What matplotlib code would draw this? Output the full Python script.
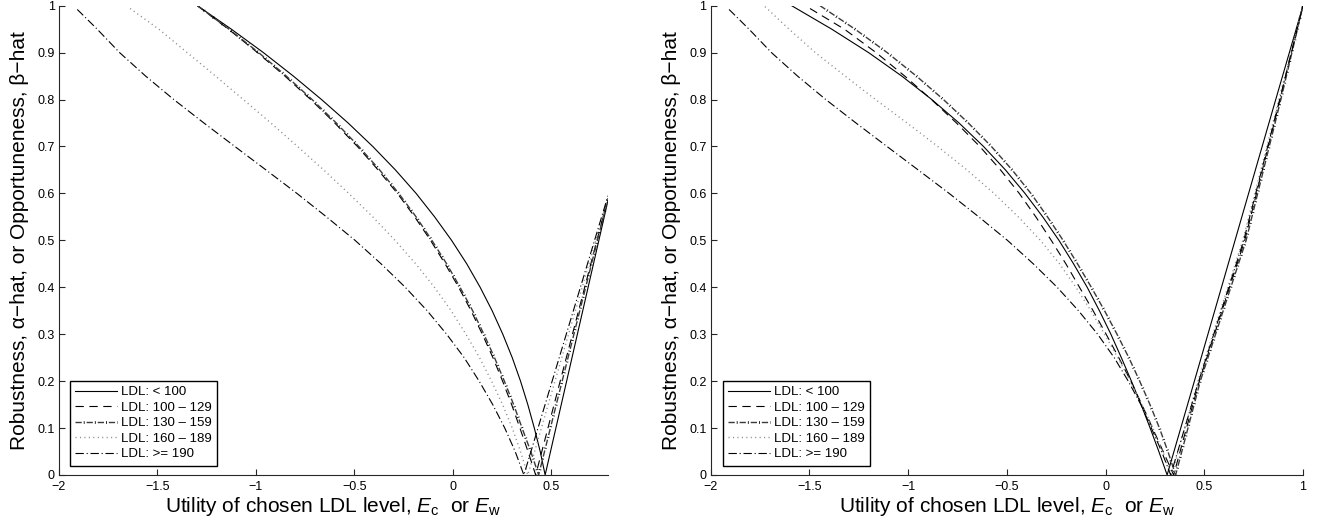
import matplotlib
matplotlib.use("Agg")
import matplotlib.pyplot as plt
from matplotlib.ticker import FixedLocator, FuncFormatter

plt.rcParams["font.family"] = ["Liberation Sans", "DejaVu Sans"]
plt.rcParams["mathtext.fontset"] = "custom"
plt.rcParams["mathtext.rm"] = "Liberation Sans"
plt.rcParams["mathtext.it"] = "Liberation Sans:italic"
plt.rcParams["lines.scale_dashes"] = False

# ── Data ──
labels = ["LDL: < 100", "LDL: 100 \u2013 129", "LDL: 130 \u2013 159",
          "LDL: 160 \u2013 189", "LDL: >= 190"]

# robustness levels (alpha-hat), top to bottom
alpha_levels = [1.0, 0.95, 0.9, 0.85, 0.8, 0.75, 0.7, 0.65, 0.6, 0.55, 0.5,
                0.45, 0.4, 0.35, 0.3, 0.25, 0.2, 0.15, 0.1, 0.05, 0.0]

# left panel: utility at each robustness level
left_lt100 = [-1.297, -1.125, -0.962, -0.810, -0.667, -0.532, -0.407, -0.292, -0.187, -0.093, -0.007,
              0.070, 0.138, 0.199, 0.253, 0.301, 0.343, 0.380, 0.413, 0.443, 0.468]
left_100_129 = [-1.297, -1.140, -0.992, -0.853, -0.722, -0.600, -0.485, -0.380, -0.282, -0.194, -0.114,
                -0.040, 0.029, 0.092, 0.149, 0.203, 0.252, 0.298, 0.340, 0.381, 0.420]
left_130_159 = [-1.297, -1.137, -0.986, -0.846, -0.715, -0.592, -0.478, -0.372, -0.275, -0.187, -0.107,
                -0.032, 0.036, 0.100, 0.157, 0.211, 0.261, 0.308, 0.351, 0.395, 0.435]
left_160_189 = [-1.639, -1.493, -1.349, -1.205, -1.064, -0.924, -0.789, -0.656, -0.529, -0.407, -0.294,
                -0.189, -0.094, -0.009, 0.066, 0.135, 0.196, 0.252, 0.301, 0.343, 0.380]
left_ge190 = [-1.907, -1.806, -1.692, -1.560, -1.417, -1.264, -1.107, -0.949, -0.792, -0.642, -0.497,
              -0.365, -0.242, -0.131, -0.032, 0.057, 0.133, 0.202, 0.263, 0.316, 0.360]
left_top_y = [1.0, 1.0, 1.0, 0.994, 0.992]
# opportuneness (beta-hat) at the right end of the left panel
left_xmax = 0.787
left_end_y = [0.585, 0.59, 0.59, 0.59, 0.595]

# right panel
right_lt100 = [-1.590, -1.387, -1.200, -1.032, -0.880, -0.742, -0.618, -0.507, -0.408, -0.318, -0.236,
               -0.162, -0.093, -0.031, 0.027, 0.080, 0.131, 0.180, 0.226, 0.270, 0.312]
right_100_129 = [-1.497, -1.323, -1.162, -1.017, -0.882, -0.755, -0.637, -0.532, -0.437, -0.353, -0.275,
                 -0.201, -0.132, -0.063, 0.003, 0.067, 0.128, 0.184, 0.238, 0.292, 0.345]
right_130_159 = [-1.446, -1.269, -1.106, -0.958, -0.821, -0.695, -0.578, -0.473, -0.378, -0.294, -0.215,
                 -0.142, -0.072, -0.005, 0.058, 0.118, 0.173, 0.225, 0.273, 0.316, 0.355]
right_160_189 = [-1.725, -1.603, -1.470, -1.319, -1.165, -1.005, -0.850, -0.702, -0.565, -0.442, -0.330,
                 -0.233, -0.150, -0.074, -0.005, 0.062, 0.125, 0.185, 0.240, 0.290, 0.335]
right_ge190 = [-1.907, -1.806, -1.692, -1.560, -1.417, -1.264, -1.107, -0.949, -0.792, -0.642, -0.497,
               -0.366, -0.245, -0.137, -0.040, 0.044, 0.115, 0.179, 0.232, 0.284, 0.330]
right_top_y = [1.0, 0.994, 1.0, 0.998, 0.992]
# opportuneness branch: utility at beta-hat levels
beta_levels = [0.0, 0.2, 0.5, 0.8, 1.0]
right_opp_lt100 = [0.312, 0.45, 0.656, 0.862, 1.0]
right_opp_100_129 = [0.345, 0.475, 0.705, 0.884, 1.0]
right_opp_130_159 = [0.355, 0.48, 0.712, 0.888, 1.0]
right_opp_160_189 = [0.335, 0.468, 0.695, 0.878, 1.0]
right_opp_ge190 = [0.33, 0.472, 0.70, 0.882, 1.0]

left_rob = [left_lt100, left_100_129, left_130_159, left_160_189, left_ge190]
right_rob = [right_lt100, right_100_129, right_130_159, right_160_189, right_ge190]
right_opp = [right_opp_lt100, right_opp_100_129, right_opp_130_159,
             right_opp_160_189, right_opp_ge190]

y_ticks = [0, 0.1, 0.2, 0.3, 0.4, 0.5, 0.6, 0.7, 0.8, 0.9, 1.0]
left_x_ticks = [-2, -1.5, -1, -0.5, 0, 0.5]
right_x_ticks = [-2, -1.5, -1, -0.5, 0, 0.5, 1]

AX_COLOR = "#262626"


def draw_series(ax, i, xs, ys):
    """Draw one LDL group in its line style; returns the legend handle."""
    if i == 0:
        return ax.plot(xs, ys, color="black", lw=0.8)[0]
    if i == 1:
        return ax.plot(xs, ys, color="black", lw=0.8, dashes=(6, 4))[0]
    if i == 2:
        # dark grey dashes with a heavy black dot in each gap
        a = ax.plot(xs, ys, color="#3a3a3a", lw=1.0, dashes=(4.5, 3.5))[0]
        b = ax.plot(xs, ys, color="black", lw=2.0,
                    linestyle=(2.05, (0.6, 7.4)))[0]
        return (a, b)
    if i == 3:
        return ax.plot(xs, ys, color="#8c8c8c", lw=1.0, dashes=(0.8, 2.4))[0]
    return ax.plot(xs, ys, color="black", lw=0.8, dashes=(6, 2, 0.8, 2))[0]


def style_axes(ax, xlim, xticks):
    ax.set_xlim(*xlim)
    ax.set_ylim(0, 1)
    ax.xaxis.set_major_locator(FixedLocator(xticks))
    ax.yaxis.set_major_locator(FixedLocator(y_ticks))
    fmt = FuncFormatter(lambda v, p: ("%g" % round(v, 2)).replace("-", "\u2212"))
    ax.xaxis.set_major_formatter(fmt)
    ax.yaxis.set_major_formatter(fmt)
    for s in ("top", "right"):
        ax.spines[s].set_visible(False)
    for s in ("left", "bottom"):
        ax.spines[s].set_color(AX_COLOR)
        ax.spines[s].set_linewidth(0.8)
    ax.tick_params(direction="in", length=4, width=0.8, color=AX_COLOR,
                   labelsize=9, labelcolor="black")
    ax.tick_params(axis="x", pad=4)
    ax.tick_params(axis="y", pad=3)
    ax.set_xlabel(r"Utility of chosen LDL level, $\mathit{E}_{\mathrm{c}}$  or "
                  r"$\mathit{E}_{\mathrm{w}}$", fontsize=15, labelpad=2)
    ax.set_ylabel("Robustness, \u03b1\u2212hat, or Opportuneness, \u03b2\u2212hat",
                  fontsize=15, labelpad=6)


def add_legend(ax, handles):
    leg = ax.legend(handles, labels, loc="lower left", bbox_to_anchor=(0.02, 0.02),
                    borderaxespad=0, fontsize=9.5, frameon=True, fancybox=False,
                    framealpha=1, edgecolor="black", handlelength=3.2,
                    handletextpad=0.3, labelspacing=0.25, borderpad=0.4)
    leg.get_frame().set_linewidth(1.0)


fig = plt.figure(figsize=(13.22, 5.28), dpi=100)
ax_l = fig.add_axes([0.0446, 0.1004, 0.4153, 0.8888])
ax_r = fig.add_axes([0.5376, 0.1004, 0.4480, 0.8888])

# left panel: robustness branch, then straight opportuneness branch to the edge
handles = []
for i, rob in enumerate(left_rob):
    xs = list(rob) + [left_xmax]
    ys = [left_top_y[i]] + alpha_levels[1:] + [left_end_y[i]]
    handles.append(draw_series(ax_l, i, xs, ys))
style_axes(ax_l, (-2, left_xmax), left_x_ticks)
add_legend(ax_l, handles)

# right panel
handles = []
for i, rob in enumerate(right_rob):
    xs = list(rob) + right_opp[i][1:]
    ys = [right_top_y[i]] + alpha_levels[1:] + beta_levels[1:]
    handles.append(draw_series(ax_r, i, xs, ys))
style_axes(ax_r, (-2, 1), right_x_ticks)
add_legend(ax_r, handles)

fig.savefig("out.png", dpi=100)
plt.close(fig)
